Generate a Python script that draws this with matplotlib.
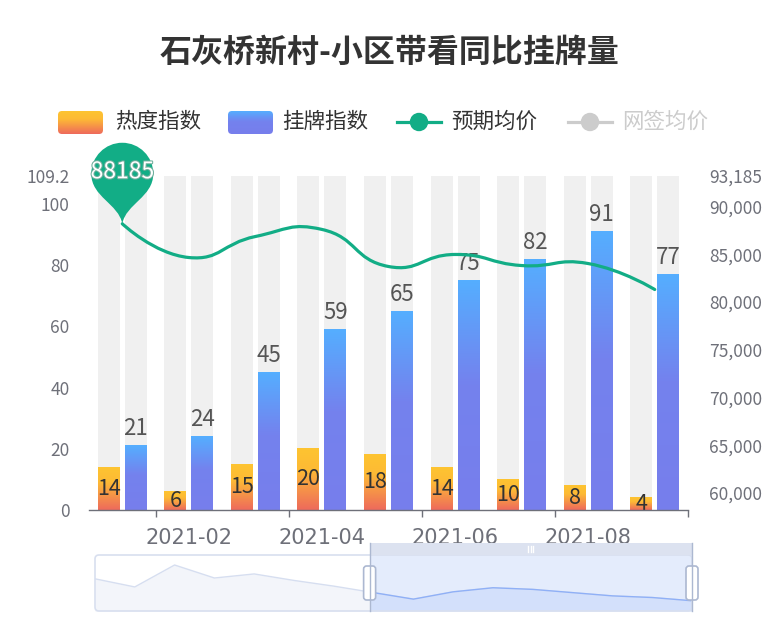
import numpy as np
import matplotlib
matplotlib.use('Agg')
import matplotlib.pyplot as plt
from matplotlib.path import Path
from matplotlib.patches import PathPatch, FancyBboxPatch, Rectangle, Circle
from matplotlib.colors import to_rgb
import matplotlib.patheffects as pe

plt.rcParams['font.family'] = ['Noto Sans CJK SC', 'DejaVu Sans']

# ---------------- data ----------------
title = '石灰桥新村-小区带看同比挂牌量'
months = ['2021-01', '2021-02', '2021-03', '2021-04', '2021-05',
          '2021-06', '2021-07', '2021-08', '2021-09']
heat = [14, 6, 15, 20, 18, 14, 10, 8, 4]
listing = [21, 24, 45, 59, 65, 75, 82, 91, 77]
price = [88185, 84650, 86850, 87590, 83710, 84970, 83810, 84020, 81300]
legend_names = ['热度指数', '挂牌指数', '预期均价', '网签均价']

left_max = 109.2
left_ticks = [0, 20, 40, 60, 80, 100, 109.2]
right_min, right_max = 58216, 93185
right_ticks = [60000, 65000, 70000, 75000, 80000, 85000, 90000, 93185]

# full heat series shown as data shadow in the zoom slider
all_months = ['2020-06', '2020-07', '2020-08', '2020-09', '2020-10', '2020-11',
              '2020-12'] + months
heat_all = [31, 21, 48, 32, 37, 29, 22] + heat
zoom_start_pct, zoom_end_pct = 46, 100

# ---------------- style ----------------
W, H = 780, 634
heat_stops = [(0.0, '#FEC431'), (0.35, '#FDBA35'), (1.0, '#EE6A5C')]
list_stops = [(0.0, '#55AEFF'), (0.45, '#7482EE'), (1.0, '#777EEC')]
green = '#12AD86'
bg_gray = '#F0F0F0'
axis_gray = '#6E7079'
label_gray = '#6E7079'

fig = plt.figure(figsize=(W / 100, H / 100), dpi=100)


def px_rect(x0, y0, x1, y1):
    return [x0 / W, 1 - y1 / H, (x1 - x0) / W, (y1 - y0) / H]


def grad_img(stops, nrow=128):
    t = np.linspace(0, 1, nrow)
    pos = [s[0] for s in stops]
    cols = np.array([to_rgb(s[1]) for s in stops])
    img = np.stack([np.interp(t, pos, cols[:, c]) for c in range(3)], axis=-1)
    return img[:, None, :]


ax = fig.add_axes(px_rect(89, 176, 688, 510))
ax2 = ax.twinx()
ax2.set_zorder(ax.get_zorder() + 1)
ax2.patch.set_visible(False)

n = len(months)
x = np.arange(n)
bw = 0.33
off = 0.203


def gradient_fill(axis, patches, stops, z):
    img = grad_img(stops)
    for p in patches:
        x0, w, h = p.get_x(), p.get_width(), p.get_height()
        axis.imshow(img, extent=(x0, x0 + w, 0, h), origin='upper',
                    aspect='auto', interpolation='bilinear', zorder=z)


# background bars
ax.bar(x - off, [left_max] * n, width=bw, color=bg_gray, zorder=1)
ax.bar(x + off, [left_max] * n, width=bw, color=bg_gray, zorder=1)
hb = ax.bar(x - off, heat, width=bw, color=heat_stops[-1][1], zorder=2)
lb = ax.bar(x + off, listing, width=bw, color=list_stops[-1][1], zorder=2)
gradient_fill(ax, hb, heat_stops, 3)
gradient_fill(ax, lb, list_stops, 3)

for xi, v in zip(x, heat):
    ax.text(xi - off, v / 2, str(v), ha='center', va='center',
            fontsize=15.5, color='#333333', zorder=5)
for xi, v in zip(x, listing):
    ax.annotate(str(v), (xi + off, v), xytext=(0, 4), textcoords='offset points',
                ha='center', va='bottom', fontsize=16, color='#555555', zorder=5)

ax.set_xlim(-0.5, n - 0.5)
ax.set_ylim(0, left_max)
ax2.set_ylim(right_min, right_max)

for a in (ax, ax2):
    for s in ('top', 'left', 'right'):
        a.spines[s].set_visible(False)
ax2.spines['bottom'].set_visible(False)
ax.spines['bottom'].set_color(axis_gray)
ax.spines['bottom'].set_linewidth(1)
ax.spines['bottom'].set_zorder(6)

ax.set_xticks(x[1::2])
ax.set_xticklabels(months[1::2], fontfamily='DejaVu Sans', fontsize=15,
                   color=label_gray)
ax.set_xticks(np.arange(0.5, n, 2), minor=True)
ax.tick_params(axis='x', which='major', length=0, pad=13)
ax.tick_params(axis='x', which='minor', length=5, color=axis_gray, width=1)

ax.set_yticks(left_ticks)
ax.set_yticklabels([('%g' % v) for v in left_ticks], fontsize=12.5, color=label_gray)
ax.tick_params(axis='y', length=0, pad=14)
ax2.set_yticks(right_ticks)
ax2.set_yticklabels(['{:,}'.format(v) for v in right_ticks], fontsize=12.5,
                    color=label_gray)
ax2.tick_params(axis='y', length=0, pad=15)

# smooth price line (echarts-like bezier smoothing, smooth=0.5)
fig.canvas.draw()
pts = ax2.transData.transform(np.column_stack([x, price]))
smooth = 0.5
verts = [pts[0]]
codes = [Path.MOVETO]
cps_out, cps_in = [], []
for i in range(n):
    p = pts[i]
    prev = pts[i - 1] if i > 0 else p
    nxt = pts[i + 1] if i < n - 1 else p
    if i == 0 or i == n - 1:
        cps_out.append(p)
        cps_in.append(p)
        continue
    v = nxt - prev
    l0 = np.hypot(*(p - prev))
    l1 = np.hypot(*(nxt - p))
    r = l1 / (l0 + l1)
    cps_out.append(p + v * smooth * r)
    cps_in.append(p - v * smooth * (1 - r))
for i in range(n - 1):
    verts += [cps_out[i], cps_in[i + 1], pts[i + 1]]
    codes += [Path.CURVE4] * 3
verts = ax2.transData.inverted().transform(np.array(verts))
ax2.add_patch(PathPatch(Path(verts, codes), fill=False, edgecolor=green,
                        lw=2.3, zorder=4, capstyle='round'))

# ---------------- overlay (pixel coords) ----------------
ov = fig.add_axes([0, 0, 1, 1], zorder=10)
ov.set_xlim(0, W)
ov.set_ylim(H, 0)
ov.axis('off')
ov.patch.set_visible(False)


def to_ov(disp):
    return ov.transData.inverted().transform(disp)


# title
ov.text(W / 2, 53, title, ha='center', va='center', fontsize=23,
        fontweight='bold', color='#333333')

# max pin
imax = int(np.argmax(price))
tx, ty = to_ov(ax2.transData.transform((x[imax], price[imax])))
r = 31
cx, cy = tx, ty - 50
k = 0.5523
d = ty - cy
pin_v = [(tx, ty),
         (cx - 0.12 * r, ty - 0.4 * d), (cx - r, cy + 0.75 * r), (cx - r, cy),
         (cx - r, cy - k * r), (cx - k * r, cy - r), (cx, cy - r),
         (cx + k * r, cy - r), (cx + r, cy - k * r), (cx + r, cy),
         (cx + r, cy + 0.75 * r), (cx + 0.12 * r, ty - 0.4 * d), (tx, ty),
         (tx, ty)]
pin_c = [Path.MOVETO] + [Path.CURVE4] * 12 + [Path.CLOSEPOLY]
ov.add_patch(PathPatch(Path(pin_v, pin_c), facecolor=green, edgecolor='none'))
ov.text(cx, cy - 2, str(price[imax]), ha='center', va='center', fontsize=16.5,
        color='white',
        path_effects=[pe.withStroke(linewidth=1.5, foreground='#6fae9c')])


# legend
def legend_grad(x0, y0, w, h, stops):
    box = FancyBboxPatch((x0, y0), w, h, boxstyle='round,pad=0,rounding_size=4',
                         facecolor='none', edgecolor='none')
    ov.add_patch(box)
    im = ov.imshow(grad_img(stops, 64), extent=(x0, x0 + w, y0 + h, y0),
                   origin='upper', aspect='auto', interpolation='bilinear')
    im.set_clip_path(box)


ly = 122
legend_grad(58, 111, 45, 23, heat_stops)
ov.text(115, ly, legend_names[0], ha='left', va='center', fontsize=15.5, color='#333333')
legend_grad(228, 111, 45, 23, list_stops)
ov.text(282, ly, legend_names[1], ha='left', va='center', fontsize=15.5, color='#333333')
ov.plot([397, 441], [ly, ly], color=green, lw=2.3)
ov.add_patch(Circle((419, ly), 8.5, color=green))
ov.text(451, ly, legend_names[2], ha='left', va='center', fontsize=15.5, color='#333333')
ov.plot([568, 612], [ly, ly], color='#cccccc', lw=2.3)
ov.add_patch(Circle((590, ly), 8.5, color='#cccccc'))
ov.text(622, ly, legend_names[3], ha='left', va='center', fontsize=15.5, color='#cccccc')

# ---------------- data zoom slider ----------------
sx0, sx1, sy0, sy1 = 95, 692, 555, 611
sax = fig.add_axes(px_rect(sx0, sy0, sx1, sy1), zorder=8)
sax.axis('off')
m = len(all_months)
xs = np.arange(m)
sax.set_xlim(0, m - 1)
ylo, yhi = -8.6, 60.3
sax.set_ylim(ylo, yhi)
sel0 = (m - 1) * zoom_start_pct / 100
sel1 = (m - 1) * zoom_end_pct / 100
sax.fill_between(xs, heat_all, ylo, color='#F3F5FA', lw=0)
sax.plot(xs, heat_all, color='#D6DEF0', lw=1)
sax.add_patch(Rectangle((sel0, ylo), sel1 - sel0, yhi - ylo, color='#E4ECFC', lw=0))
clip = Rectangle((sel0, ylo), sel1 - sel0, yhi - ylo, transform=sax.transData)
f2 = sax.fill_between(xs, heat_all, ylo, color='#D3E0FB', lw=0)
f2.set_clip_path(clip)
l2, = sax.plot(xs, heat_all, color='#8FB0F7', lw=1)
l2.set_clip_path(clip)

# slider chrome in pixel coords
hx0 = sx0 + (sx1 - sx0) * zoom_start_pct / 100
hx1 = sx0 + (sx1 - sx0) * zoom_end_pct / 100
ov.add_patch(FancyBboxPatch((sx0, sy0), sx1 - sx0, sy1 - sy0,
                            boxstyle='round,pad=0,rounding_size=4',
                            facecolor='none', edgecolor='#D8DFEF', lw=1.2))
ov.add_patch(Rectangle((hx0, 543), hx1 - hx0, sy0 - 543, facecolor='#DCE2F0',
                       edgecolor='none'))
gx = (hx0 + hx1) / 2
for dx in (-2.5, 0, 2.5):
    ov.plot([gx + dx, gx + dx], [546, 552], color='white', lw=1)
for hx in (hx0, hx1):
    ov.plot([hx, hx], [543, sy1], color='#ACB8D1', lw=1)
    ov.add_patch(FancyBboxPatch((hx - 6, 566), 12, 34,
                                boxstyle='round,pad=0,rounding_size=3',
                                facecolor='white', edgecolor='#ACB8D1', lw=1.2))

fig.savefig('out.png', dpi=100)
